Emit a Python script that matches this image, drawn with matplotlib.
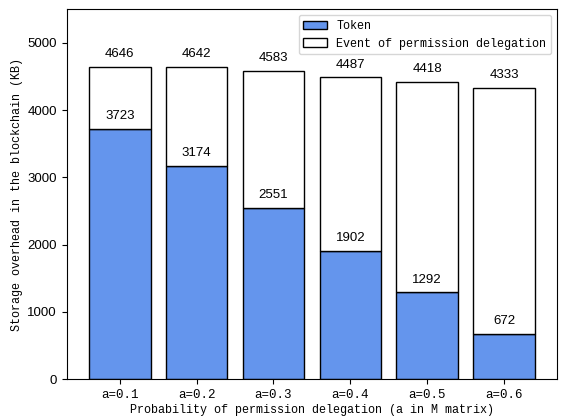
import matplotlib
matplotlib.use("Agg")
import matplotlib.pyplot as plt
import numpy as np

categories = ["a=0.1", "a=0.2", "a=0.3", "a=0.4", "a=0.5", "a=0.6"]
token = [3723, 3174, 2551, 1902, 1292, 672]
total = [4646, 4642, 4583, 4487, 4418, 4333]

mono = ["Liberation Mono", "DejaVu Sans Mono"]
sans = ["Liberation Sans", "DejaVu Sans"]
fs = 8.5
fsn = 9.5

fig = plt.figure(figsize=(5.61, 4.18), dpi=100)
ax = fig.add_axes([0.119, 0.093, 0.874, 0.885])

x = np.arange(len(categories))
event = [t - k for t, k in zip(total, token)]
ax.bar(x, token, width=0.8, color="#6495ED", edgecolor="black", linewidth=1, label="Token")
ax.bar(x, event, width=0.8, bottom=token, color="white", edgecolor="black", linewidth=1,
       label="Event of permission delegation")

for xi, k, t in zip(x, token, total):
    ax.text(xi, k + 100, str(k), ha="center", va="bottom", fontsize=fsn, family=sans, zorder=6)
    ax.text(xi, t + 100, str(t), ha="center", va="bottom", fontsize=fsn, family=sans, zorder=6)

ax.set_ylim(0, 5500)
ax.set_yticks([0, 1000, 2000, 3000, 4000, 5000])
ax.set_xticks(x)
ax.set_xticklabels(categories, family=mono, fontsize=fs + 0.5)
for lab in ax.get_yticklabels():
    lab.set_family(sans)
    lab.set_fontsize(fsn)
ax.set_xlabel("Probability of permission delegation (a in M matrix)", family=mono, fontsize=fs, labelpad=2)
ax.set_ylabel("Storage overhead in the blockchain (KB)", family=mono, fontsize=fs, labelpad=3)
ax.legend(loc="upper right", prop={"family": mono, "size": fs})

fig.savefig("out.png", dpi=100)
